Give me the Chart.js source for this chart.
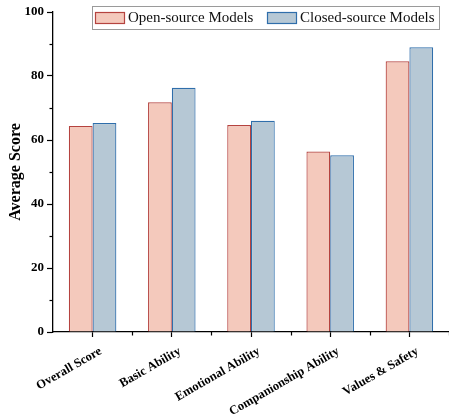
<!DOCTYPE html>
<html>
<head>
<meta charset="utf-8">
<script src="https://cdn.jsdelivr.net/npm/chart.js@4.4.1/dist/chart.umd.min.js"></script>
<style>
  html, body { margin: 0; padding: 0; background: #fff; }
  #wrap { width: 449px; height: 419px; position: relative; }
</style>
</head>
<body>
<div id="wrap"><canvas id="c"></canvas></div>
<script>
const categories = ['Overall Score', 'Basic Ability', 'Emotional Ability', 'Companionship Ability', 'Values & Safety'];
const openSource = [64.4, 71.8, 64.7, 56.4, 84.6];
const closedSource = [65.3, 76.3, 66.0, 55.2, 89.0];
const seriesNames = ['Open-source Models', 'Closed-source Models'];
const yMin = 0, yMax = 100, yMajorStep = 20, yMinorStep = 10;

const SERIF = '"Liberation Serif", "Times New Roman", serif';

const minorTicks = {
  id: 'minorTicks',
  afterDraw(chart) {
    const ctx = chart.ctx;
    const y = chart.scales.y, x = chart.scales.x;
    ctx.save();
    ctx.strokeStyle = '#000';
    ctx.lineWidth = 1.2;
    for (let v = yMin + yMinorStep; v < yMax; v += yMajorStep) {
      const py = Math.round(y.getPixelForValue(v)) + 0.5;
      ctx.beginPath();
      ctx.moveTo(x.left - 3.5, py);
      ctx.lineTo(x.left, py);
      ctx.stroke();
    }
    const n = categories.length;
    const step = x.getPixelForValue(1) - x.getPixelForValue(0);
    for (let i = 1; i <= n; i++) {
      const px = Math.round(x.getPixelForValue(i - 1) + step / 2) + 0.5;
      ctx.beginPath();
      ctx.moveTo(px, y.bottom);
      ctx.lineTo(px, y.bottom + 3.5);
      ctx.stroke();
    }
    ctx.restore();
  }
};

const xLabels = {
  id: 'xLabels',
  afterDraw(chart) {
    const ctx = chart.ctx;
    const x = chart.scales.x;
    ctx.save();
    ctx.font = 'bold 12.5px ' + SERIF;
    ctx.fillStyle = '#000';
    ctx.textAlign = 'right';
    ctx.textBaseline = 'top';
    chart.data.labels.forEach((lab, i) => {
      const px = x.getPixelForValue(i);
      ctx.save();
      ctx.translate(px + 5, x.top + 13);
      ctx.rotate(-Math.PI / 6);
      ctx.fillText(lab, 0, 0);
      ctx.restore();
    });
    ctx.restore();
  }
};

const boxLegend = {
  id: 'boxLegend',
  afterDraw(chart) {
    const ctx = chart.ctx;
    ctx.save();
    const bx = 92, by = 6, bw = 347, bh = 23;
    ctx.fillStyle = '#fff';
    ctx.fillRect(bx, by, bw, bh);
    ctx.strokeStyle = '#9a9a9a';
    ctx.lineWidth = 1;
    ctx.strokeRect(bx + 0.5, by + 0.5, bw, bh);
    ctx.font = '15px ' + SERIF;
    ctx.textBaseline = 'middle';
    const items = [
      { x: 95, tx: 128 },
      { x: 267, tx: 300 }
    ];
    chart.data.datasets.forEach((ds, i) => {
      const it = items[i];
      ctx.fillStyle = ds.backgroundColor;
      ctx.fillRect(it.x, 12, 29, 12);
      ctx.strokeStyle = ds.borderColor;
      ctx.lineWidth = 1.2;
      ctx.strokeRect(it.x + 0.5, 12.5, 29, 11);
      ctx.fillStyle = '#111';
      ctx.fillText(ds.label, it.tx, 18.5);
    });
    ctx.restore();
  }
};

new Chart(document.getElementById('c'), {
  type: 'bar',
  data: {
    labels: categories,
    datasets: [
      { label: seriesNames[0], data: openSource, backgroundColor: '#f4c9bc', borderColor: '#b5433f', borderWidth: 1.2 },
      { label: seriesNames[1], data: closedSource, backgroundColor: '#b6c8d5', borderColor: '#2f6eab', borderWidth: 1.2 }
    ]
  },
  options: {
    responsive: true,
    maintainAspectRatio: false,
    animation: false,
    devicePixelRatio: 1,
    layout: { padding: { top: 12, right: 0, left: 0, bottom: 0 } },
    datasets: { bar: { categoryPercentage: 0.6, barPercentage: 1.0 } },
    plugins: {
      legend: { display: false },
      tooltip: { enabled: false }
    },
    scales: {
      x: {
        offset: true,
        border: { display: true, color: '#000', width: 1.3 },
        grid: { display: true, drawOnChartArea: false, offset: false, tickLength: 5, color: '#000', tickColor: '#000', tickWidth: 1.2 },
        ticks: { display: false, autoSkip: false },
        afterFit(scale) { scale.height = 87; }
      },
      y: {
        min: yMin, max: yMax,
        border: { display: true, color: '#000', width: 1.3 },
        grid: { display: true, drawOnChartArea: false, tickLength: 6, color: '#000', tickColor: '#000', tickWidth: 1.2 },
        ticks: {
          stepSize: yMajorStep, padding: 3,
          color: '#000',
          font: { family: SERIF, size: 13, weight: 'bold' }
        },
        title: {
          display: true, text: 'Average Score', color: '#000',
          font: { family: SERIF, size: 16, weight: 'bold' },
          padding: { top: 6, bottom: 0 }
        },
        afterFit(scale) { scale.width = 53; }
      }
    }
  },
  plugins: [minorTicks, xLabels, boxLegend]
});
</script>
</body>
</html>
